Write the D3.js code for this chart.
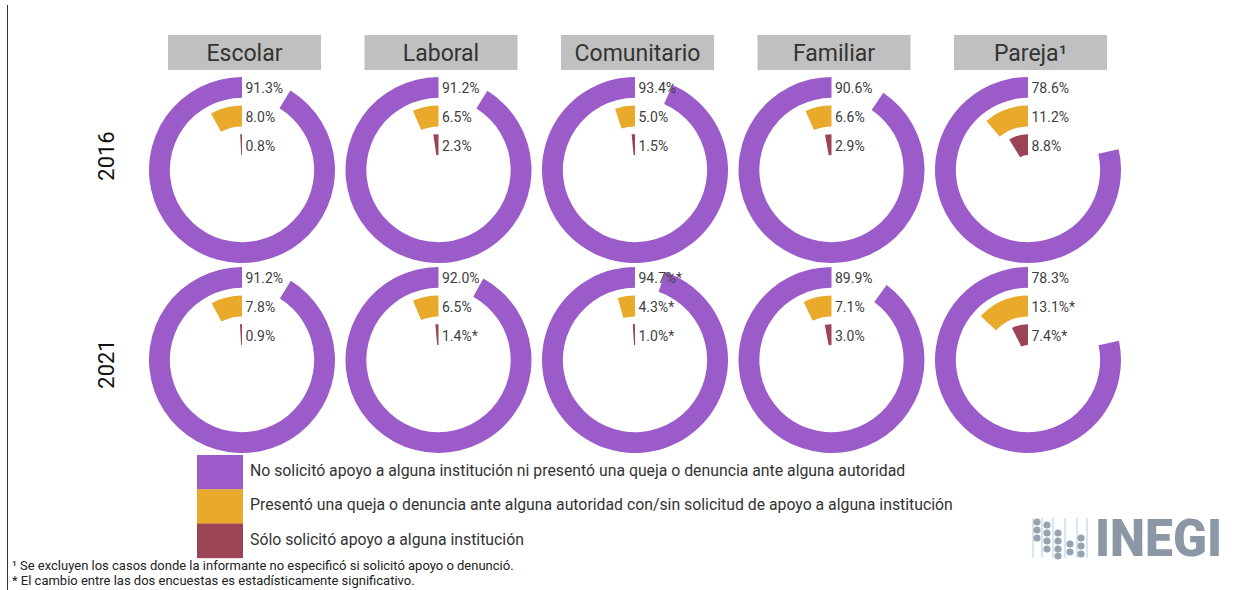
<!DOCTYPE html>
<html>
<head>
<meta charset="utf-8">
<script src="https://cdn.jsdelivr.net/npm/d3@7"></script>
<style>
  html, body { margin: 0; padding: 0; background: #ffffff; }
  svg { display: block; font-family: Roboto, "Noto Sans", sans-serif; }
</style>
</head>
<body>
<svg id="chart" width="1233" height="590"></svg>
<script>
// ---------- DATA ----------
const categories = ["Escolar", "Laboral", "Comunitario", "Familiar", "Pareja"];
const headerLabels = ["Escolar", "Laboral", "Comunitario", "Familiar", "Pareja\u00B9"];
const years = ["2016", "2021"];
const seriesKeys = ["noSolicito", "queja", "soloApoyo"];
const seriesNames = [
  "No solicitó apoyo a alguna institución ni presentó una queja o denuncia ante alguna autoridad",
  "Presentó una queja o denuncia ante alguna autoridad con/sin solicitud de apoyo a alguna institución",
  "Sólo solicitó apoyo a alguna institución"
];
const noSolicito2016 = [91.3, 91.2, 93.4, 90.6, 78.6];
const queja2016      = [8.0, 6.5, 5.0, 6.6, 11.2];
const soloApoyo2016  = [0.8, 2.3, 1.5, 2.9, 8.8];
const noSolicito2021 = [91.2, 92.0, 94.7, 89.9, 78.3];
const queja2021      = [7.8, 6.5, 4.3, 7.1, 13.1];
const soloApoyo2021  = [0.9, 1.4, 1.0, 3.0, 7.4];
// statistically significant change (asterisk)
const noSolicitoSig2021 = [false, false, true, false, false];
const quejaSig2021      = [false, false, true, false, true];
const soloApoyoSig2021  = [false, true, true, false, true];
const footnotes = [
  "\u00B9 Se excluyen los casos donde la informante no especificó si solicitó apoyo o denunció.",
  "* El cambio entre las dos encuestas es estadísticamente significativo."
];

const colors = ["#9b5bc8", "#e9aa2b", "#9a4455"];

// ---------- BUILD ----------
const values = {
  "2016": [noSolicito2016, queja2016, soloApoyo2016],
  "2021": [noSolicito2021, queja2021, soloApoyo2021]
};
const sigs = {
  "2016": [categories.map(() => false), categories.map(() => false), categories.map(() => false)],
  "2021": [noSolicitoSig2021, quejaSig2021, soloApoyoSig2021]
};

const svg = d3.select("#chart");

const x = d3.scalePoint().domain(categories).range([242, 1028]);
const y = d3.scalePoint().domain(years).range([170, 360]);
const ringBand = d3.scaleBand().domain(seriesKeys.slice().reverse()).range([15, 93]).paddingInner(0.27).paddingOuter(0);
const angle = d3.scaleLinear().domain([0, 100]).range([0, -2 * Math.PI]);
const color = d3.scaleOrdinal().domain(seriesKeys).range(colors);

// left border line
svg.append("line").attr("x1", 7.5).attr("x2", 7.5).attr("y1", 5).attr("y2", 590)
  .attr("stroke", "#333").attr("stroke-width", 1);

// headers
const headers = svg.append("g").selectAll("g").data(categories).join("g")
  .attr("transform", d => `translate(${x(d) + 2.5},0)`);
headers.append("rect").attr("x", -76.5).attr("y", 35).attr("width", 153).attr("height", 35)
  .attr("fill", "#c0c0c0");
headers.append("text").attr("y", 53).attr("text-anchor", "middle").attr("dominant-baseline", "central")
  .attr("font-size", 23).attr("fill", "#333")
  .text((d, i) => headerLabels[i]);

// year labels
svg.append("g").selectAll("text").data(years).join("text")
  .attr("transform", (d, i) => `translate(106,${[156, 364][i]}) rotate(-90)`)
  .attr("text-anchor", "middle").attr("dominant-baseline", "central")
  .attr("font-size", 22).attr("fill", "#111")
  .text(d => d);

const arc = d3.arc();

years.forEach(yr => {
  categories.forEach((cat, ci) => {
    const g = svg.append("g").attr("transform", `translate(${x(cat)},${y(yr)})`);
    seriesKeys.forEach((key, si) => {
      const v = values[yr][si][ci];
      const inner = ringBand(key);
      const outer = inner + ringBand.bandwidth();
      g.append("path")
        .attr("d", arc({ innerRadius: inner, outerRadius: outer, startAngle: 0, endAngle: angle(v) }))
        .attr("fill", color(key));
      g.append("text")
        .attr("x", 3.5)
        .attr("y", -(inner + outer) / 2 + 1)
        .attr("dominant-baseline", "central")
        .attr("font-size", 14).attr("fill", "#404040")
        .text(d3.format(".1f")(v) + "%" + (sigs[yr][si][ci] ? "*" : ""));
    });
  });
});

// legend
const legend = svg.append("g").attr("transform", "translate(197,455)");
const legRows = legend.selectAll("g").data(seriesKeys).join("g")
  .attr("transform", (d, i) => `translate(0,${i * 34.3})`);
legRows.append("rect").attr("width", 46).attr("height", 34.6).attr("fill", d => color(d));
legRows.append("text").attr("x", 53).attr("y", 15.5).attr("dominant-baseline", "central")
  .attr("font-size", 15.8).attr("fill", "#333")
  .text((d, i) => seriesNames[i]);

// footnotes
svg.append("g").selectAll("text").data(footnotes).join("text")
  .attr("x", 12).attr("y", (d, i) => 570 + i * 15)
  .attr("font-size", 13).attr("fill", "#222")
  .text(d => d);

// INEGI logo
const logo = svg.append("g");
[1033, 1042, 1053, 1065, 1077, 1087].forEach(lx => {
  logo.append("line").attr("x1", lx).attr("x2", lx).attr("y1", 518).attr("y2", 558)
    .attr("stroke", "#a9cfec").attr("stroke-width", 1);
});
const dots = [
  [1037, 522], [1037, 530], [1037, 538],
  [1047, 525], [1047, 533], [1047, 541], [1047, 549],
  [1058, 533], [1058, 541], [1058, 549], [1058, 556],
  [1070, 544], [1070, 552],
  [1081, 538], [1081, 546], [1081, 554]
];
logo.selectAll("circle").data(dots).join("circle")
  .attr("cx", d => d[0]).attr("cy", d => d[1]).attr("r", 3.6).attr("fill", "#98a3af");
logo.append("text").attr("x", 1095).attr("y", 556)
  .attr("font-size", 52).attr("font-weight", 900).attr("fill", "#8b97a4")
  .attr("textLength", 127).attr("lengthAdjust", "spacingAndGlyphs")
  .text("INEGI");
</script>
</body>
</html>
